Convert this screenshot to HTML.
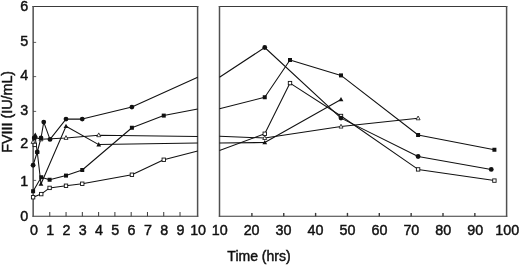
<!DOCTYPE html>
<html><head><meta charset="utf-8"><title>FVIII</title>
<style>html,body{margin:0;padding:0;background:#fff}svg{display:block}</style></head>
<body>
<svg width="520" height="265" viewBox="0 0 520 265">
<rect width="520" height="265" fill="#fff"/>
<g fill="none" stroke="#3a3a3a" stroke-width="1.05">
<line x1="32.45" y1="6.50" x2="198.30" y2="6.50"/>
<line x1="32.45" y1="216.30" x2="198.30" y2="216.30"/>
<line x1="33.15" y1="6.00" x2="33.15" y2="216.80" stroke="#505050" stroke-width="1.5"/>
<line x1="197.60" y1="6.00" x2="197.60" y2="216.80" stroke="#505050" stroke-width="1.5"/>
<line x1="218.80" y1="6.50" x2="507.30" y2="6.50"/>
<line x1="218.80" y1="216.30" x2="507.30" y2="216.30"/>
<line x1="219.50" y1="6.00" x2="219.50" y2="216.80" stroke="#505050" stroke-width="1.5"/>
<line x1="506.60" y1="6.00" x2="506.60" y2="216.80" stroke="#505050" stroke-width="1.5"/>
</g>
<g stroke="#3a3a3a" stroke-width="1">
<line x1="33.15" y1="180.40" x2="36.15" y2="180.40" stroke-width="0.8"/>
<line x1="33.15" y1="146.00" x2="36.15" y2="146.00" stroke-width="0.8"/>
<line x1="33.15" y1="111.40" x2="36.15" y2="111.40" stroke-width="0.8"/>
<line x1="33.15" y1="76.60" x2="36.15" y2="76.60" stroke-width="0.8"/>
<line x1="33.15" y1="42.40" x2="36.15" y2="42.40" stroke-width="0.8"/>
<line x1="49.78" y1="216.30" x2="49.78" y2="212.00"/>
<line x1="66.06" y1="216.30" x2="66.06" y2="212.00"/>
<line x1="82.34" y1="216.30" x2="82.34" y2="212.00"/>
<line x1="98.62" y1="216.30" x2="98.62" y2="212.00"/>
<line x1="114.90" y1="216.30" x2="114.90" y2="212.00"/>
<line x1="131.18" y1="216.30" x2="131.18" y2="212.00"/>
<line x1="147.46" y1="216.30" x2="147.46" y2="212.00"/>
<line x1="163.74" y1="216.30" x2="163.74" y2="212.00"/>
<line x1="180.02" y1="216.30" x2="180.02" y2="212.00"/>
<line x1="251.90" y1="216.30" x2="251.90" y2="212.90" stroke-width="1.4"/>
<line x1="283.75" y1="216.30" x2="283.75" y2="212.90" stroke-width="1.4"/>
<line x1="315.60" y1="216.30" x2="315.60" y2="212.90" stroke-width="1.4"/>
<line x1="347.45" y1="216.30" x2="347.45" y2="212.90" stroke-width="1.4"/>
<line x1="379.30" y1="216.30" x2="379.30" y2="212.90" stroke-width="1.4"/>
<line x1="411.15" y1="216.30" x2="411.15" y2="212.90" stroke-width="1.4"/>
<line x1="443.00" y1="216.30" x2="443.00" y2="212.90" stroke-width="1.4"/>
<line x1="474.85" y1="216.30" x2="474.85" y2="212.90" stroke-width="1.4"/>
</g>
<polyline fill="none" stroke="#111" stroke-width="1.05" stroke-linejoin="round" points="33.10,141.90 34.80,137.50 41.00,139.30 66.00,137.90 98.75,135.20 197.70,136.50"/>
<polyline fill="none" stroke="#111" stroke-width="1.05" stroke-linejoin="round" points="219.50,136.25 264.75,138.00 341.00,126.60 418.10,118.30"/>
<polyline fill="none" stroke="#111" stroke-width="1.05" stroke-linejoin="round" points="33.10,197.25 41.25,194.10 49.60,187.90 66.00,185.75 82.25,183.75 131.90,174.75 163.75,159.75 197.70,151.00"/>
<polyline fill="none" stroke="#111" stroke-width="1.05" stroke-linejoin="round" points="219.50,150.60 264.75,133.75 290.00,83.10 341.00,116.00 418.10,169.40 494.40,180.60"/>
<polyline fill="none" stroke="#111" stroke-width="1.05" stroke-linejoin="round" points="35.00,136.00 37.25,152.00 41.00,184.00 66.00,126.25 98.75,144.60 197.70,143.10"/>
<polyline fill="none" stroke="#111" stroke-width="1.05" stroke-linejoin="round" points="219.50,143.10 264.75,142.50 341.00,99.50"/>
<polyline fill="none" stroke="#111" stroke-width="1.05" stroke-linejoin="round" points="33.10,191.25 41.25,177.25 49.60,179.75 66.00,175.60 82.25,170.00 131.90,127.75 163.75,115.60 197.70,109.10"/>
<polyline fill="none" stroke="#111" stroke-width="1.05" stroke-linejoin="round" points="219.50,108.75 264.75,97.25 290.00,60.00 341.00,75.40 418.10,135.00 494.40,149.75"/>
<polyline fill="none" stroke="#111" stroke-width="1.05" stroke-linejoin="round" points="33.10,165.25 37.25,152.00 41.00,138.00 43.75,122.10 50.00,139.40 66.00,119.10 82.25,119.10 131.90,107.10 197.70,77.25"/>
<polyline fill="none" stroke="#111" stroke-width="1.05" stroke-linejoin="round" points="219.50,77.25 264.75,47.50 341.00,118.10 418.10,156.50 491.25,169.40"/>
<polygon points="33.10,139.60 31.10,143.40 35.10,143.40" fill="#fff" stroke="#111" stroke-width="0.8"/>
<polygon points="34.80,135.20 32.80,139.00 36.80,139.00" fill="#fff" stroke="#111" stroke-width="0.8"/>
<polygon points="41.00,137.00 39.00,140.80 43.00,140.80" fill="#fff" stroke="#111" stroke-width="0.8"/>
<polygon points="66.00,135.60 64.00,139.40 68.00,139.40" fill="#fff" stroke="#111" stroke-width="0.8"/>
<polygon points="98.75,132.90 96.75,136.70 100.75,136.70" fill="#fff" stroke="#111" stroke-width="0.8"/>
<polygon points="264.75,135.70 262.75,139.50 266.75,139.50" fill="#fff" stroke="#111" stroke-width="0.8"/>
<polygon points="341.00,124.30 339.00,128.10 343.00,128.10" fill="#fff" stroke="#111" stroke-width="0.8"/>
<polygon points="418.10,116.00 416.10,119.80 420.10,119.80" fill="#fff" stroke="#111" stroke-width="0.8"/>
<rect x="31.40" y="195.55" width="3.4" height="3.4" fill="#fff" stroke="#111" stroke-width="0.9"/>
<rect x="39.55" y="192.40" width="3.4" height="3.4" fill="#fff" stroke="#111" stroke-width="0.9"/>
<rect x="47.90" y="186.20" width="3.4" height="3.4" fill="#fff" stroke="#111" stroke-width="0.9"/>
<rect x="64.30" y="184.05" width="3.4" height="3.4" fill="#fff" stroke="#111" stroke-width="0.9"/>
<rect x="80.55" y="182.05" width="3.4" height="3.4" fill="#fff" stroke="#111" stroke-width="0.9"/>
<rect x="130.20" y="173.05" width="3.4" height="3.4" fill="#fff" stroke="#111" stroke-width="0.9"/>
<rect x="162.05" y="158.05" width="3.4" height="3.4" fill="#fff" stroke="#111" stroke-width="0.9"/>
<rect x="263.05" y="132.05" width="3.4" height="3.4" fill="#fff" stroke="#111" stroke-width="0.9"/>
<rect x="288.30" y="81.40" width="3.4" height="3.4" fill="#fff" stroke="#111" stroke-width="0.9"/>
<rect x="339.30" y="114.30" width="3.4" height="3.4" fill="#fff" stroke="#111" stroke-width="0.9"/>
<rect x="416.40" y="167.70" width="3.4" height="3.4" fill="#fff" stroke="#111" stroke-width="0.9"/>
<rect x="492.70" y="178.90" width="3.4" height="3.4" fill="#fff" stroke="#111" stroke-width="0.9"/>
<polygon points="35.00,133.40 32.60,137.80 37.40,137.80" fill="#111"/>
<polygon points="37.25,149.40 34.85,153.80 39.65,153.80" fill="#111"/>
<polygon points="41.00,181.40 38.60,185.80 43.40,185.80" fill="#111"/>
<polygon points="66.00,123.65 63.60,128.05 68.40,128.05" fill="#111"/>
<polygon points="98.75,142.00 96.35,146.40 101.15,146.40" fill="#111"/>
<polygon points="264.75,139.90 262.35,144.30 267.15,144.30" fill="#111"/>
<polygon points="341.00,96.90 338.60,101.30 343.40,101.30" fill="#111"/>
<rect x="31.10" y="189.25" width="4" height="4" fill="#111"/>
<rect x="39.25" y="175.25" width="4" height="4" fill="#111"/>
<rect x="47.60" y="177.75" width="4" height="4" fill="#111"/>
<rect x="64.00" y="173.60" width="4" height="4" fill="#111"/>
<rect x="80.25" y="168.00" width="4" height="4" fill="#111"/>
<rect x="129.90" y="125.75" width="4" height="4" fill="#111"/>
<rect x="161.75" y="113.60" width="4" height="4" fill="#111"/>
<rect x="262.75" y="95.25" width="4" height="4" fill="#111"/>
<rect x="288.00" y="58.00" width="4" height="4" fill="#111"/>
<rect x="339.00" y="73.40" width="4" height="4" fill="#111"/>
<rect x="416.10" y="133.00" width="4" height="4" fill="#111"/>
<rect x="492.40" y="147.75" width="4" height="4" fill="#111"/>
<circle cx="33.10" cy="165.25" r="2.4" fill="#111"/>
<circle cx="37.25" cy="152.00" r="2.4" fill="#111"/>
<circle cx="41.00" cy="138.00" r="2.4" fill="#111"/>
<circle cx="43.75" cy="122.10" r="2.4" fill="#111"/>
<circle cx="50.00" cy="139.40" r="2.4" fill="#111"/>
<circle cx="66.00" cy="119.10" r="2.4" fill="#111"/>
<circle cx="82.25" cy="119.10" r="2.4" fill="#111"/>
<circle cx="131.90" cy="107.10" r="2.4" fill="#111"/>
<circle cx="264.75" cy="47.50" r="2.4" fill="#111"/>
<circle cx="341.00" cy="118.10" r="2.4" fill="#111"/>
<circle cx="418.10" cy="156.50" r="2.4" fill="#111"/>
<circle cx="491.25" cy="169.40" r="2.4" fill="#111"/>
<rect x="33.10" y="143.20" width="3.4" height="3.4" fill="#fff" stroke="#111" stroke-width="0.9"/>
<circle cx="34.20" cy="138.00" r="2.4" fill="#111"/>
<polygon points="35.3,132.6 32.6,137.6 38.0,137.6" fill="#111"/>
<g font-family="'Liberation Sans', Arial, sans-serif" font-size="14.3" fill="#111" stroke="#111" stroke-width="0.45">
<text x="28.3" y="220.60" text-anchor="end">0</text>
<text x="28.3" y="185.75" text-anchor="end">1</text>
<text x="28.3" y="148.25" text-anchor="end">2</text>
<text x="28.3" y="115.00" text-anchor="end">3</text>
<text x="28.3" y="80.00" text-anchor="end">4</text>
<text x="28.3" y="46.00" text-anchor="end">5</text>
<text x="28.3" y="11.00" text-anchor="end">6</text>
<text x="33.90" y="235.0" text-anchor="middle">0</text>
<text x="50.18" y="235.0" text-anchor="middle">1</text>
<text x="66.46" y="235.0" text-anchor="middle">2</text>
<text x="82.74" y="235.0" text-anchor="middle">3</text>
<text x="99.02" y="235.0" text-anchor="middle">4</text>
<text x="115.30" y="235.0" text-anchor="middle">5</text>
<text x="131.58" y="235.0" text-anchor="middle">6</text>
<text x="147.86" y="235.0" text-anchor="middle">7</text>
<text x="164.14" y="235.0" text-anchor="middle">8</text>
<text x="180.42" y="235.0" text-anchor="middle">9</text>
<text x="198.10" y="235.0" text-anchor="middle">10</text>
<text x="219.65" y="235.0" text-anchor="middle">10</text>
<text x="251.60" y="235.0" text-anchor="middle">20</text>
<text x="283.55" y="235.0" text-anchor="middle">30</text>
<text x="315.50" y="235.0" text-anchor="middle">40</text>
<text x="347.45" y="235.0" text-anchor="middle">50</text>
<text x="379.40" y="235.0" text-anchor="middle">60</text>
<text x="411.35" y="235.0" text-anchor="middle">70</text>
<text x="443.30" y="235.0" text-anchor="middle">80</text>
<text x="475.25" y="235.0" text-anchor="middle">90</text>
<text x="507.20" y="235.0" text-anchor="middle">100</text>
<text x="259" y="261" text-anchor="middle" font-size="14">Time (hrs)</text>
<text transform="translate(11.8,111.8) rotate(-90)" text-anchor="middle">FVIII (IU/mL)</text>
</g>
</svg>
</body></html>
